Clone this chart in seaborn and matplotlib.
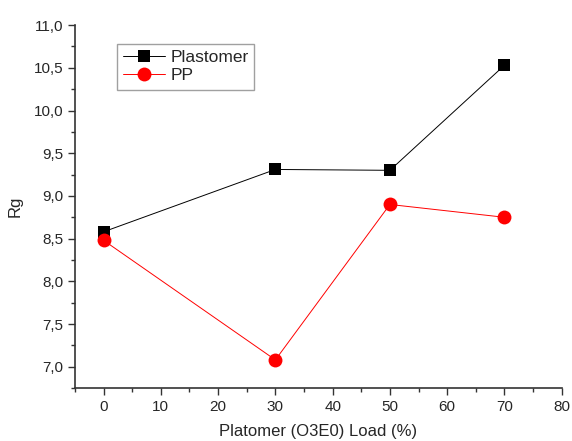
import pandas as pd
import matplotlib
matplotlib.use('Agg')
import matplotlib.pyplot as plt
from matplotlib.ticker import FuncFormatter, MultipleLocator
import seaborn as sns

# values
load = [0, 30, 50, 70]
rg_plastomer = [8.58, 9.31, 9.30, 10.53]
rg_pp = [8.48, 7.08, 8.90, 8.75]

df = pd.DataFrame({
    'load': load * 2,
    'rg': rg_plastomer + rg_pp,
    'series': ['Plastomer'] * len(load) + ['PP'] * len(load),
})

sns.set_style("ticks")
plt.rcParams['font.family'] = ['Liberation Sans', 'DejaVu Sans']

fig = plt.figure(figsize=(5.72, 4.41), dpi=100)
ax = fig.add_axes([0.131, 0.12, 0.851, 0.823])

sns.lineplot(data=df, x='load', y='rg', hue='series', style='series',
             palette={'Plastomer': 'black', 'PP': 'red'},
             markers={'Plastomer': 's', 'PP': 'o'}, dashes=False,
             linewidth=0.7, markersize=9, markeredgewidth=0, ax=ax)
# circles a bit bigger
for line in ax.lines:
    if line.get_marker() == 'o':
        line.set_markersize(10)

ax.set_xlim(-5, 80)
ax.set_ylim(6.75, 11.0)
ax.xaxis.set_major_locator(MultipleLocator(10))
ax.xaxis.set_minor_locator(MultipleLocator(5))
ax.yaxis.set_major_locator(MultipleLocator(0.5))
ax.yaxis.set_minor_locator(MultipleLocator(0.25))
ax.set_xticks([0, 10, 20, 30, 40, 50, 60, 70, 80])
ax.yaxis.set_major_formatter(FuncFormatter(lambda v, p: f'{v:.1f}'.replace('.', ',')))
ax.tick_params(which='major', direction='out', length=5, width=1, labelsize=11, color='#333333')
ax.tick_params(which='minor', direction='out', length=3, width=1, color='#333333')
sns.despine(ax=ax)
for sp in ['left', 'bottom']:
    ax.spines[sp].set_linewidth(1.2)
    ax.spines[sp].set_color('#333333')

ax.set_xlabel('Platomer (O3E0) Load (%)', fontsize=12, labelpad=7)
ax.set_ylabel('Rg', fontsize=12, labelpad=8)

leg = ax.legend(title=None, loc='upper left', bbox_to_anchor=(0.069, 0.973),
                fontsize=12.5, frameon=True, fancybox=False, edgecolor='#888888',
                handlelength=2.4, borderpad=0.35, labelspacing=0.2, handletextpad=0.3)
leg.get_frame().set_linewidth(1)

fig.savefig('out.png', dpi=100)
